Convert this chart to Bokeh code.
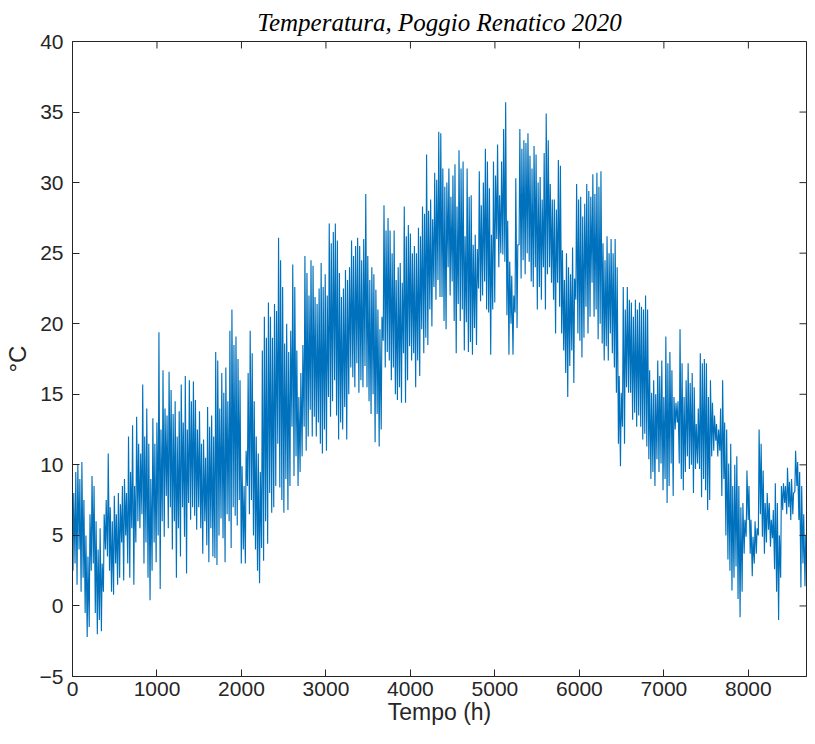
from bokeh.plotting import figure
from bokeh.models import Range1d, FixedTicker
from bokeh.embed import file_html
from bokeh.resources import INLINE

title_text = "Temperatura, Poggio Renatico 2020"
x_label = "Tempo (h)"
y_label = "°C"
x_ticks = [0, 1000, 2000, 3000, 4000, 5000, 6000, 7000, 8000]
y_ticks = [-5, 0, 5, 10, 15, 20, 25, 30, 35, 40]

# daily minimum / maximum temperatures (°C), day 0 .. 361
daily_min = [
    2.5, 3.0, 1.5, 4.0, 1.0, 2.0, -0.5, -2.2, -1.5, 2.5,
    3.0, -0.5, -2.0, -1.0, -1.8, 1.0, 4.0, 3.5, 2.5, 1.0,
    0.8, 3.0, 1.5, 2.0, 4.5, 1.8, 5.0, 3.0, 2.0, 5.5,
    1.5, 4.5, 6.0, 5.5, 6.5, 3.0, 4.5, 2.0, 0.4, 2.5,
    4.5, 3.1, 5.0, 1.2, 6.0, 4.9, 7.8, 5.5, 7.0, 4.0,
    6.0, 2.0, 5.5, 3.5, 7.0, 4.9, 2.3, 7.3, 6.1, 7.0,
    6.4, 5.4, 7.0, 5.5, 3.7, 6.0, 4.3, 3.1, 5.5, 3.5,
    3.4, 2.9, 5.0, 6.2, 4.8, 3.1, 6.5, 6.0, 4.1, 7.0,
    6.4, 5.7, 7.5, 3.0, 4.0, 3.0, 8.5, 6.5, 7.5, 5.0,
    4.0, 2.5, 1.6, 4.1, 3.2, 6.0, 4.4, 8.0, 6.6, 7.0,
    8.5, 11.5, 8.4, 7.5, 6.6, 9.0, 6.8, 8.5, 12.7, 9.2,
    10.6, 8.5, 9.5, 10.6, 12.7, 11.0, 12.0, 13.9, 12.0, 13.4,
    12.0, 13.0, 11.5, 10.8, 12.5, 11.0, 14.8, 13.4, 14.5, 16.0,
    13.5, 11.8, 13.0, 12.5, 14.1, 11.8, 15.0, 16.9, 16.2, 15.5,
    17.2, 15.1, 16.0, 15.5, 17.0, 15.5, 14.5, 13.6, 15.0, 11.6,
    13.6, 11.3, 12.5, 18.8, 16.9, 18.0, 17.4, 16.0, 16.9, 15.0,
    14.6, 15.5, 14.4, 17.9, 14.4, 16.0, 18.4, 17.4, 17.9, 15.5,
    17.4, 16.3, 19.6, 17.9, 19.0, 18.5, 21.0, 19.8, 22.6, 21.7,
    23.1, 21.9, 21.9, 20.2, 19.6, 24.0, 22.0, 23.0, 20.2, 17.9,
    21.4, 20.2, 21.0, 18.1, 20.1, 18.0, 18.7, 17.8, 19.7, 18.5,
    22.5, 21.6, 22.0, 23.0, 21.0, 20.8, 17.8, 21.0, 21.5, 26.0,
    24.0, 25.0, 24.9, 24.4, 20.6, 17.8, 20.0, 17.8, 20.8, 19.7,
    25.6, 23.2, 24.5, 23.5, 25.0, 24.4, 23.0, 22.6, 24.0, 21.0,
    22.6, 21.7, 24.0, 21.0, 23.5, 24.0, 22.9, 21.7, 19.3, 22.9,
    21.2, 19.3, 18.1, 16.5, 14.8, 17.0, 18.1, 15.8, 21.7, 19.3,
    18.8, 17.6, 19.0, 21.2, 19.3, 20.5, 22.9, 20.5, 21.0, 18.9,
    20.0, 18.6, 17.4, 18.4, 17.4, 19.3, 17.9, 16.9, 15.1, 11.5,
    9.9, 12.7, 11.5, 15.5, 15.1, 15.1, 13.2, 13.7, 12.7, 13.5,
    12.7, 11.8, 12.2, 11.3, 10.4, 9.0, 9.5, 8.5, 10.4, 9.5,
    10.1, 8.2, 9.0, 7.3, 8.5, 10.1, 7.8, 12.5, 13.0, 10.1,
    9.0, 8.2, 9.5, 10.6, 9.7, 10.0, 8.0, 9.7, 10.1, 9.7,
    7.7, 9.0, 8.2, 6.8, 7.5, 10.6, 11.0, 11.7, 10.6, 11.0,
    7.8, 9.0, 5.0, 3.3, 2.5, 1.1, 2.0, 2.8, 0.5, -0.8,
    1.0, 3.7, 4.9, 6.1, 3.7, 2.1, 3.0, 3.7, 5.0, 6.5,
    4.9, 3.7, 4.5, 5.4, 4.2, 4.8, 2.6, 1.0, -1.0, 2.0,
    6.8, 7.3, 6.5, 7.0, 6.1, 6.5, 8.1, 8.5, 6.1, 1.3, 3.0, 1.4,
]
daily_max = [
    8.0, 9.5, 10.0, 9.0, 10.2, 7.5, 5.0, 3.5, 6.5, 9.2,
    8.5, 6.0, 4.0, 5.5, 3.0, 6.5, 7.5, 10.8, 7.0, 6.0,
    7.8, 6.5, 8.0, 7.2, 8.5, 9.0, 8.0, 12.0, 9.5, 12.8,
    8.5, 13.4, 11.5, 10.8, 15.7, 12.0, 14.0, 11.5, 9.0, 13.3,
    11.5, 13.0, 19.4, 12.5, 16.7, 14.0, 13.5, 16.6, 15.3, 13.6,
    14.5, 12.0, 13.8, 15.7, 13.0, 16.3, 12.5, 16.0, 14.5, 15.9,
    14.6, 12.5, 13.8, 11.5, 11.8, 10.5, 14.1, 12.7, 13.5, 12.0,
    18.0, 17.4, 14.0, 16.5, 15.1, 16.9, 14.5, 19.5, 21.0, 18.5,
    19.1, 17.5, 16.0, 9.9, 8.5, 11.0, 16.5, 19.5, 17.9, 14.5,
    12.0, 10.8, 9.5, 18.1, 20.5, 19.0, 21.5, 20.5, 19.0, 21.4,
    20.9, 26.1, 24.5, 22.6, 18.6, 20.0, 18.0, 19.5, 24.2, 22.6,
    18.1, 14.8, 16.5, 18.5, 24.8, 23.6, 22.0, 24.5, 24.1, 21.9,
    21.4, 22.5, 24.3, 22.6, 23.5, 22.0, 27.1, 25.7, 26.5, 27.1,
    25.9, 23.6, 21.9, 22.5, 23.8, 23.1, 24.0, 25.9, 24.8, 25.5,
    26.1, 25.5, 24.5, 26.0, 29.2, 24.8, 23.1, 24.0, 23.5, 22.4,
    21.0, 19.6, 20.5, 28.4, 26.6, 27.5, 26.6, 25.0, 26.6, 23.1,
    24.0, 24.3, 22.9, 28.3, 26.2, 27.0, 26.4, 25.0, 25.5, 25.0,
    26.8, 26.2, 28.3, 27.8, 32.0, 28.0, 28.8, 27.4, 30.7, 30.2,
    33.6, 33.5, 31.0, 29.7, 30.0, 31.0, 29.0, 30.5, 31.3, 28.3,
    32.3, 31.0, 31.5, 26.2, 31.0, 29.0, 29.1, 25.6, 26.3, 25.3,
    30.8, 28.4, 30.0, 32.4, 31.5, 29.6, 26.3, 31.5, 30.5, 32.7,
    29.1, 31.5, 33.8, 35.7, 27.3, 24.4, 23.4, 22.0, 30.3, 25.6,
    33.8, 32.4, 33.0, 32.8, 33.5, 31.9, 31.0, 32.6, 32.0, 30.0,
    30.4, 28.8, 32.1, 34.9, 33.0, 29.9, 28.8, 28.8, 28.1, 31.6,
    31.2, 25.2, 23.1, 25.0, 24.0, 23.5, 25.4, 23.2, 29.9, 28.8,
    29.0, 27.6, 28.5, 29.9, 29.4, 29.0, 30.6, 29.2, 30.7, 29.7,
    30.8, 25.7, 24.5, 26.2, 25.0, 26.0, 25.0, 26.0, 24.0, 16.3,
    15.1, 22.6, 21.0, 22.6, 21.7, 21.5, 20.5, 21.7, 21.0, 21.5,
    21.2, 21.0, 22.0, 21.0, 16.7, 15.1, 16.0, 15.0, 17.4, 16.3,
    17.4, 14.8, 19.1, 17.2, 18.0, 16.7, 14.8, 14.4, 14.5, 19.6,
    17.2, 14.8, 16.0, 17.2, 15.8, 16.5, 15.5, 12.9, 14.0, 17.9,
    17.2, 17.5, 17.2, 14.8, 16.0, 14.4, 13.5, 12.9, 12.5, 14.0,
    16.0, 13.0, 12.5, 10.1, 11.5, 8.5, 10.0, 10.6, 8.5, 7.0,
    7.3, 6.1, 9.6, 8.5, 6.1, 4.9, 6.0, 5.5, 12.5, 11.5,
    9.6, 7.3, 8.0, 7.3, 6.1, 6.8, 8.7, 7.3, 5.0, 8.5,
    8.7, 8.5, 9.8, 8.8, 9.0, 8.0, 11.0, 10.2, 9.5, 8.5, 6.5, 5.0,
]
assert len(daily_min) == len(daily_max)

hours, temps = [], []
for d, (lo, hi) in enumerate(zip(daily_min, daily_max)):
    hours += [24 * d + 6, 24 * d + 15]
    temps += [lo, hi]

AX = "#262626"
FRAME_W, FRAME_H = 734, 635
TICK_PX = 7
x_end = 24 * len(daily_min)
y_start, y_end = y_ticks[0], y_ticks[-1]

p = figure(frame_width=FRAME_W, frame_height=FRAME_H, output_backend="svg", toolbar_location=None,
           x_range=Range1d(0, x_end), y_range=Range1d(y_start, y_end),
           min_border_left=10, min_border_right=1, min_border_top=10, min_border_bottom=10)
p.background_fill_color = "white"
p.border_fill_color = "white"
p.outline_line_color = AX
p.outline_line_width = 1
p.grid.visible = False

p.line(hours, temps, line_color="#0072BD", line_width=1.15)

# inward ticks on the top and right edges of the box (MATLAB "box on")
lx = TICK_PX * x_end / FRAME_W
ly = TICK_PX * (y_end - y_start) / FRAME_H
p.segment(x0=x_ticks, y0=[y_end] * len(x_ticks), x1=x_ticks, y1=[y_end - ly] * len(x_ticks),
          line_color=AX, line_width=1)
p.segment(x0=[x_end] * len(y_ticks), y0=y_ticks, x1=[x_end - lx] * len(y_ticks), y1=y_ticks,
          line_color=AX, line_width=1)

for ax, ticks in ((p.xaxis[0], x_ticks), (p.yaxis[0], y_ticks)):
    ax.ticker = FixedTicker(ticks=ticks)
    ax.minor_tick_line_color = None
    ax.major_tick_in = TICK_PX
    ax.major_tick_out = 0
    ax.axis_line_color = AX
    ax.major_tick_line_color = AX
    ax.major_label_text_color = AX
    ax.major_label_text_font = "Liberation Sans"
    ax.major_label_text_font_size = "21px"
    ax.axis_label_text_font = "Liberation Sans"
    ax.axis_label_text_font_size = "23px"
    ax.axis_label_text_font_style = "normal"
    ax.axis_label_text_color = AX

p.xaxis[0].axis_label = x_label
p.yaxis[0].axis_label = y_label
p.yaxis[0].axis_label_text_font_size = "24px"
p.xaxis[0].major_label_standoff = 5
p.yaxis[0].major_label_standoff = 9
p.xaxis[0].axis_label_standoff = 0
p.yaxis[0].axis_label_standoff = 6

p.title.text = title_text
p.title.align = "center"
p.title.text_font = "Liberation Serif"
p.title.text_font_style = "italic"
p.title.text_font_size = "25px"
p.title.text_color = "black"
p.title.standoff = 12

open("out.html", "w").write(file_html(p, INLINE))
